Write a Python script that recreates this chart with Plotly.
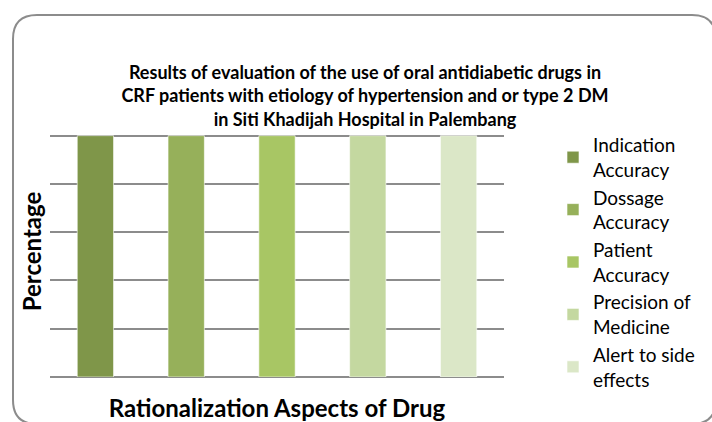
import plotly.graph_objects as go

aspects = ["Indication<br>Accuracy", "Dossage<br>Accuracy", "Patient<br>Accuracy",
           "Precision of<br>Medicine", "Alert to side<br>effects"]
values = [100, 100, 100, 100, 100]
positions = [0, 1, 2, 3, 4]
colors = ["#7F9649", "#96B05A", "#A8C664", "#C4D8A0", "#DBE7C7"]
y_ticks = [0, 20, 40, 60, 80, 100]

W, H = 712, 422
L, R, T, B = 50, 208, 126, 45
pw, ph = W - L - R, H - T - B
YMAX = 104

def px(x):
    return (x - L) / pw

def py(y):
    return (H - B - y) / ph

fig = go.Figure()
for i in range(len(aspects)):
    fig.add_trace(go.Bar(
        x=[positions[i]], y=[values[i]], name=aspects[i],
        marker=dict(color=colors[i], line=dict(color="rgba(255,255,255,0.6)", width=1)),
        width=0.4, legendgroup=str(i),
    ))

font = "Lato, 'Open Sans', sans-serif"

# rounded border of the chart area
x0, y0, x1, y1, r = px(13), py(15), px(716), py(424), 24
rx, ry = r / pw, r / ph
path = (f"M {x0+rx},{y0} L {x1-rx},{y0} Q {x1},{y0} {x1},{y0-ry} "
        f"L {x1},{y1+ry} Q {x1},{y1} {x1-rx},{y1} L {x0+rx},{y1} "
        f"Q {x0},{y1} {x0},{y1+ry} L {x0},{y0-ry} Q {x0},{y0} {x0+rx},{y0} Z")
fig.add_shape(type="path", path=path, xref="paper", yref="paper",
              line=dict(color="#8C8C8C", width=2), layer="below")

fig.update_layout(
    width=W, height=H,
    margin=dict(l=L, r=R, t=T, b=B, autoexpand=False),
    paper_bgcolor="white", plot_bgcolor="white",
    barmode="overlay",
    title=dict(
        text="<b>Results of evaluation of the use of oral antidiabetic drugs in<br>"
             "CRF patients with etiology of hypertension and or type 2 DM<br>"
             "in Siti Khadijah Hospital in Palembang</b>",
        x=px(365), xanchor="center", xref="paper", y=1 - 79 / H, yanchor="top",
        font=dict(family=font, size=18, color="black"),
    ),
    xaxis=dict(range=[-0.5, 4.5], showticklabels=False, ticks="", showgrid=False,
               zeroline=False, showline=False,
               title=dict(text="<b>Rationalization Aspects of Drug</b>", standoff=26,
                          font=dict(family=font, size=24, color="black"))),
    yaxis=dict(range=[0, YMAX], tickvals=y_ticks,
               showticklabels=False, ticks="",
               showgrid=True, gridcolor="#8C8C8C", gridwidth=2,
               zeroline=True, zerolinecolor="#8C8C8C", zerolinewidth=2,
               showline=False,
               title=dict(text="<b>Percentage</b>", standoff=0,
                          font=dict(family=font, size=24, color="black"))),
    legend=dict(x=px(553), xanchor="left", y=py(126), yanchor="top",
                font=dict(family=font, size=19, color="black"),
                traceorder="grouped", tracegroupgap=0, maxheight=320,
                bgcolor="rgba(0,0,0,0)"),
    showlegend=True,
)

fig.write_html("out.html", config={"displayModeBar": False},
               post_script="document.body.style.margin='0';")
